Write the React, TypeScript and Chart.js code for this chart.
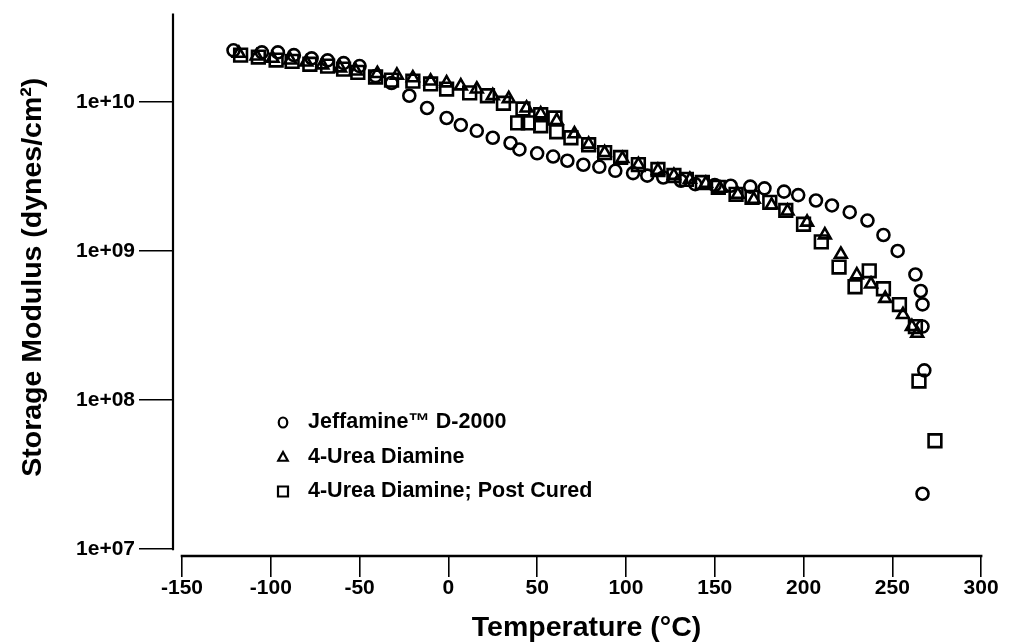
import React, { useEffect, useRef } from "react";
import { Chart, registerables } from "chart.js";

Chart.register(...registerables);

const FONT = "'Liberation Sans', Arial, Helvetica, sans-serif";

const seriesNames = ["Jeffamine™ D-2000", "4-Urea Diamine", "4-Urea Diamine; Post Cured"];

// Jeffamine D-2000 (circles)
const jeffamineTemp = [
  -121, -105, -96, -87, -77, -68, -59, -50, -41, -32,
  -22, -12, -1, 7, 16, 25, 35, 40, 50, 59,
  67, 76, 85, 94, 104, 112, 121, 131, 139, 150,
  159, 170, 178, 189, 197, 207, 216, 226, 236, 245,
  253, 263, 266, 267, 267, 268, 267,
];
const jeffamineModulus = [
  2.22e10, 2.15e10, 2.15e10, 2.06e10, 1.96e10, 1.9e10, 1.82e10, 1.74e10, 1.49e10, 1.34e10,
  1.1e10, 9.1e9, 7.8e9, 7.0e9, 6.4e9, 5.75e9, 5.3e9, 4.8e9, 4.52e9, 4.3e9,
  4.03e9, 3.79e9, 3.67e9, 3.45e9, 3.33e9, 3.2e9, 3.11e9, 2.96e9, 2.81e9, 2.77e9,
  2.74e9, 2.7e9, 2.63e9, 2.5e9, 2.37e9, 2.18e9, 2.02e9, 1.82e9, 1.6e9, 1.28e9,
  1.0e9, 6.95e8, 5.39e8, 4.38e8, 3.11e8, 1.58e8, 2.35e7,
];

// 4-Urea Diamine (triangles)
const ureaTemp = [
  -118, -108, -99, -89, -80, -71, -61, -52, -40, -29,
  -20, -10, -1, 7, 16, 25, 34, 44, 52, 61,
  71, 79, 88, 98, 107, 118, 127, 136, 145, 153,
  163, 172, 182, 191, 202, 212, 221, 230, 238, 246,
  256, 261, 264,
];
const ureaModulus = [
  2.12e10, 2.03e10, 1.96e10, 1.91e10, 1.85e10, 1.77e10, 1.69e10, 1.61e10, 1.55e10, 1.51e10,
  1.45e10, 1.38e10, 1.34e10, 1.28e10, 1.22e10, 1.1e10, 1.05e10, 9.1e9, 8.3e9, 7.5e9,
  6.1e9, 5.2e9, 4.57e9, 4.17e9, 3.8e9, 3.47e9, 3.21e9, 3.02e9, 2.84e9, 2.63e9,
  2.4e9, 2.22e9, 2.03e9, 1.85e9, 1.56e9, 1.28e9, 9.5e8, 6.9e8, 6.0e8, 4.8e8,
  3.74e8, 3.11e8, 2.8e8,
];

// 4-Urea Diamine, post cured (squares)
const postCuredTemp = [
  -117, -107, -97, -88, -78, -68, -59, -51, -41, -32,
  -20, -10, -1, 12, 22, 31, 42, 52, 60, 39,
  45, 52, 61, 69, 79, 88, 97, 107, 118, 127,
  134, 143, 152, 162, 171, 181, 190, 200, 210, 220,
  229, 237, 245, 254, 263, 265, 274,
];
const postCuredModulus = [
  2.06e10, 2.0e10, 1.91e10, 1.87e10, 1.79e10, 1.74e10, 1.66e10, 1.58e10, 1.47e10, 1.4e10,
  1.38e10, 1.32e10, 1.22e10, 1.15e10, 1.1e10, 9.8e9, 8.97e9, 8.2e9, 7.8e9, 7.24e9,
  7.24e9, 6.92e9, 6.31e9, 5.75e9, 5.16e9, 4.57e9, 4.24e9, 3.8e9, 3.52e9, 3.21e9,
  3.02e9, 2.88e9, 2.67e9, 2.4e9, 2.29e9, 2.12e9, 1.87e9, 1.51e9, 1.15e9, 7.8e8,
  5.75e8, 7.36e8, 5.58e8, 4.37e8, 3.11e8, 1.34e8, 5.33e7,
];

const xTicks = [-150, -100, -50, 0, 50, 100, 150, 200, 250, 300];
const yTicks = [1e7, 1e8, 1e9, 1e10];
const yTickLabels = ["1e+07", "1e+08", "1e+09", "1e+10"];

const xTitle = "Temperature (°C)";
const yTitle = "Storage Modulus (dynes/cm²)";

const markerStyles = ["circle", "triangle", "rect"] as const;
const pointRadius = [6, 6.8, 9];

function pairs(xs: number[], ys: number[]) {
  return xs.map((x, i) => ({ x, y: ys[i] }));
}

function drawKeyMarker(ctx: CanvasRenderingContext2D, style: string, cx: number, cy: number, r: number) {
  ctx.beginPath();
  if (style === "circle") {
    ctx.ellipse(cx, cy, r * 0.85, r, 0, 0, Math.PI * 2);
  } else if (style === "triangle") {
    ctx.moveTo(cx, cy - r);
    ctx.lineTo(cx + r * 0.95, cy + r * 0.75);
    ctx.lineTo(cx - r * 0.95, cy + r * 0.75);
    ctx.closePath();
  } else {
    ctx.rect(cx - r, cy - r, 2 * r, 2 * r);
  }
  ctx.stroke();
}

// Axis lines that stop at the outer ticks, axis titles and the in-plot key
const framePlugin = {
  id: "frameAndKey",
  afterDraw(chart: any) {
    const { ctx, chartArea, scales } = chart;
    const x = scales.x;
    const y = scales.y;
    ctx.save();
    ctx.strokeStyle = "#000";
    ctx.fillStyle = "#000";
    ctx.lineCap = "square";

    ctx.lineWidth = 2.2;
    ctx.beginPath();
    ctx.moveTo(chartArea.left, chartArea.top);
    ctx.lineTo(chartArea.left, y.getPixelForValue(yTicks[0]));
    ctx.stroke();

    ctx.lineWidth = 2.6;
    ctx.beginPath();
    ctx.moveTo(x.getPixelForValue(xTicks[0]), chartArea.bottom);
    ctx.lineTo(x.getPixelForValue(xTicks[xTicks.length - 1]), chartArea.bottom);
    ctx.stroke();

    // axis titles
    ctx.font = `bold 28.5px ${FONT}`;
    ctx.textAlign = "center";
    ctx.textBaseline = "middle";
    ctx.fillText(xTitle, (chartArea.left + chartArea.right) / 2 + 5, chartArea.bottom + 72);
    ctx.save();
    ctx.translate(chartArea.left - 140, (chartArea.top + chartArea.bottom) / 2 - 8);
    ctx.rotate(-Math.PI / 2);
    ctx.fillText(yTitle, 0, 0);
    ctx.restore();

    // key
    const keyX = chartArea.left + 110;
    const keyTop = chartArea.top + 408;
    const rowGap = 34.5;
    ctx.font = `bold 21.5px ${FONT}`;
    ctx.textBaseline = "middle";
    ctx.textAlign = "left";
    seriesNames.forEach((name, i) => {
      const cy = keyTop + i * rowGap;
      ctx.lineWidth = 2.2;
      drawKeyMarker(ctx, markerStyles[i], keyX, cy, 5);
      ctx.fillText(name, keyX + 25, cy);
    });
    ctx.restore();
  },
};

export default function App() {
  const canvasRef = useRef<HTMLCanvasElement | null>(null);

  useEffect(() => {
    const canvas = canvasRef.current;
    if (!canvas) return;
    const data = [
      pairs(jeffamineTemp, jeffamineModulus),
      pairs(ureaTemp, ureaModulus),
      pairs(postCuredTemp, postCuredModulus),
    ];
    const chart = new Chart(canvas, {
      type: "scatter",
      data: {
        datasets: data.map((d, i) => ({
          label: seriesNames[i],
          data: d,
          pointStyle: markerStyles[i],
          pointRadius: pointRadius[i],
          pointHoverRadius: pointRadius[i],
          borderColor: "#000",
          backgroundColor: "rgba(0,0,0,0)",
          pointBorderWidth: 2.6,
          borderWidth: 2.6,
        })),
      },
      options: {
        responsive: false,
        animation: false,
        devicePixelRatio: 1,
        layout: { padding: { top: 11, right: 24, left: 0, bottom: 0 } },
        plugins: {
          legend: { display: false },
          tooltip: { enabled: false },
        },
        scales: {
          x: {
            type: "linear",
            min: -155.07,
            max: 305,
            afterBuildTicks: (scale: any) => {
              scale.ticks = xTicks.map((v) => ({ value: v }));
            },
            afterFit: (scale: any) => {
              scale.height = 87;
            },
            grid: {
              drawOnChartArea: false,
              drawTicks: true,
              tickLength: 21,
              color: "#000",
              lineWidth: 1.6,
            },
            border: { display: false },
            ticks: {
              color: "#000",
              padding: 1,
              maxRotation: 0,
              autoSkip: false,
              font: { family: FONT, size: 21, weight: "bold", lineHeight: 1 },
              callback: (v: any) => String(v),
            },
            title: { display: false },
          },
          y: {
            type: "logarithmic",
            min: 8.98e6,
            max: 3.86e10,
            afterBuildTicks: (scale: any) => {
              scale.ticks = yTicks.map((v) => ({ value: v }));
            },
            afterFit: (scale: any) => {
              scale.width = 173;
            },
            grid: {
              drawOnChartArea: false,
              drawTicks: true,
              tickLength: 34,
              color: "#000",
              lineWidth: 1.6,
            },
            border: { display: false },
            ticks: {
              color: "#000",
              padding: 4,
              autoSkip: false,
              font: { family: FONT, size: 21, weight: "bold", lineHeight: 1 },
              callback: (v: any) => {
                const i = yTicks.indexOf(Number(v));
                return i >= 0 ? yTickLabels[i] : "";
              },
            },
            title: { display: false },
          },
        },
      },
      plugins: [framePlugin],
    } as any);
    return () => chart.destroy();
  }, []);

  return (
    <div style={{ position: "absolute", left: 0, top: 0, width: 1014, height: 643, background: "#fff" }}>
      <canvas ref={canvasRef} width={1014} height={643} style={{ display: "block" }} />
    </div>
  );
}
